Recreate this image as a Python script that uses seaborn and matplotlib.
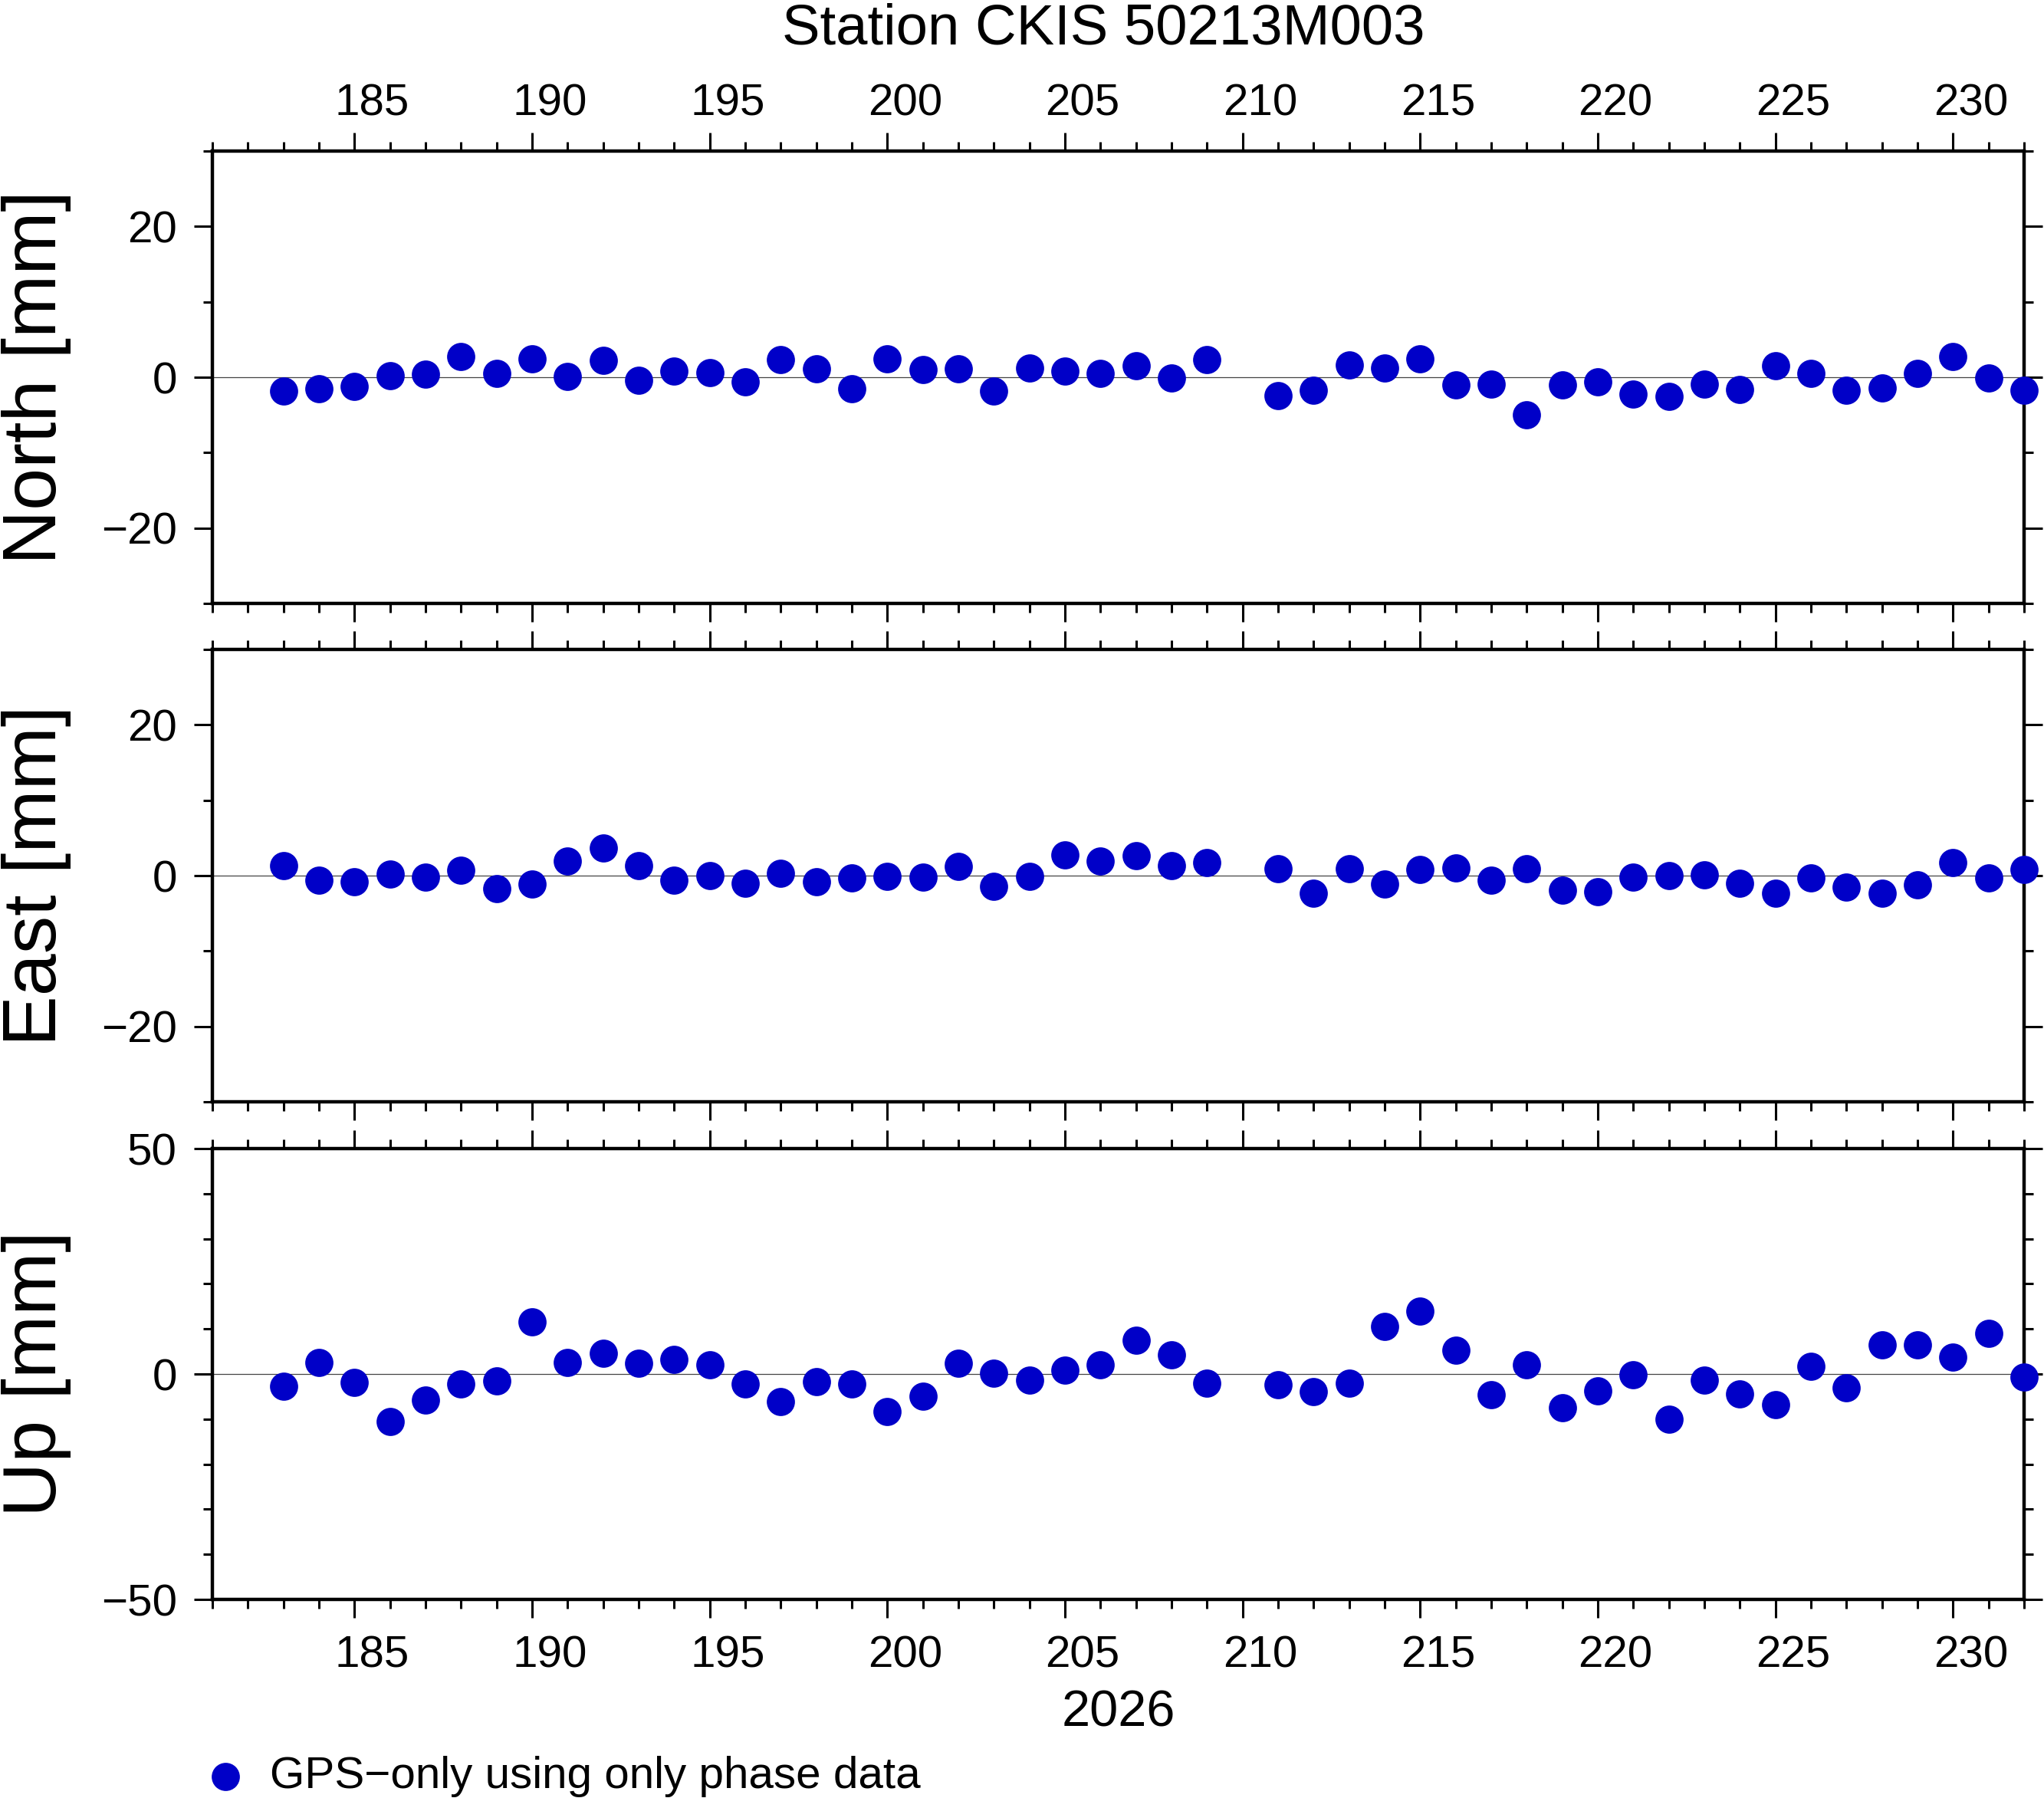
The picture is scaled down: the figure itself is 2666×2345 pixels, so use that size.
import numpy as np
import pandas as pd
import seaborn as sns
import matplotlib
matplotlib.use('Agg')
import matplotlib.pyplot as plt
from matplotlib.ticker import MultipleLocator, NullLocator, FixedLocator


# Day of year 2026 (day 210 missing).
days = list(range(183, 210)) + list(range(211, 233))

north = [-1.8, -1.5, -1.2, 0.2, 0.4, 2.7, 0.5, 2.4, 0.1, 2.2,
         -0.4, 0.8, 0.6, -0.6, 2.3, 1.1, -1.5, 2.4, 1.0, 1.1,
         -1.8, 1.2, 0.8, 0.5, 1.5, -0.1, 2.3,
         -2.4, -1.7, 1.6, 1.2, 2.4, -1.0, -0.9, -5.0, -1.0, -0.6,
         -2.2, -2.5, -0.9, -1.6, 1.5, 0.5, -1.7, -1.4, 0.5, 2.7,
         -0.1, -1.7]

east = [1.3, -0.6, -0.8, 0.2, -0.2, 0.7, -1.7, -1.1, 1.9, 3.7,
        1.3, -0.6, 0.0, -1.0, 0.3, -0.8, -0.3, -0.1, -0.2, 1.2,
        -1.4, -0.1, 2.7, 1.9, 2.6, 1.3, 1.7,
        0.9, -2.3, 0.9, -1.1, 0.8, 1.0, -0.6, 0.9, -1.9, -2.1,
        -0.2, 0.0, 0.1, -1.0, -2.3, -0.3, -1.5, -2.3, -1.2, 1.7,
        -0.3, 0.8]

up = [-2.8, 2.6, -1.9, -10.5, -5.8, -2.2, -1.5, 11.5, 2.6, 4.6,
      2.3, 3.2, 2.0, -2.2, -6.2, -1.7, -2.2, -8.4, -4.9, 2.3,
      0.1, -1.4, 0.8, 2.0, 7.5, 4.2, -2.0,
      -2.3, -3.9, -2.0, 10.5, 13.9, 5.2, -4.6, 2.0, -7.4, -3.7,
      -0.2, -10.0, -1.3, -4.4, -6.8, 1.7, -3.1, 6.4, 6.4, 3.8,
      9.0, -0.6]

components = ['North', 'East', 'Up']
ylims = {'North': (-30, 30), 'East': (-30, 30), 'Up': (-50, 50)}
ymajor = {'North': 20, 'East': 20, 'Up': 50}
day_ticks = list(range(185, 231, 5))
title = 'Station CKIS 50213M003'
year = '2026'
series_label = 'GPS\u2212only using only phase data'


def day_labels(ax, where, pad):
    ''' Day annotations sit in the middle of each day interval. '''
    sec = ax.secondary_xaxis(where, functions=(lambda x: x - 0.5, lambda x: x + 0.5))
    sec.xaxis.set_major_locator(FixedLocator(day_ticks))
    sec.xaxis.set_minor_locator(NullLocator())
    sec.tick_params(axis='x', which='both', length=0, labelsize=21, pad=pad,
                    labelcolor='black')
    for s in sec.spines.values():
        s.set_visible(False)
    return sec


def main():
    df = pd.DataFrame({'day': days, 'North': north, 'East': east, 'Up': up})

    sns.set_style('ticks')
    plt.rcParams['font.family'] = ['Liberation Sans', 'DejaVu Sans']
    plt.rcParams['text.color'] = 'black'
    plt.rcParams['axes.edgecolor'] = 'black'
    plt.rcParams['axes.labelcolor'] = 'black'
    plt.rcParams['xtick.color'] = 'black'
    plt.rcParams['ytick.color'] = 'black'

    W, H = 2666, 2345
    DPI = 200
    px = 72.0 / DPI  # points per pixel
    fig = plt.figure(figsize=(W / DPI, H / DPI), dpi=DPI)

    # panel boxes in pixels (top, bottom)
    left, right = 277, 2640
    boxes = {'North': (197, 787), 'East': (847, 1437), 'Up': (1498, 2086)}

    for comp in components:
        top, bot = boxes[comp]
        ax = fig.add_axes([left / W, 1 - bot / H, (right - left) / W, (bot - top) / H])
        lab = series_label if comp == 'Up' else None
        sns.scatterplot(data=df, x='day', y=comp, ax=ax, color='#0000c8', s=175,
                        linewidth=0, clip_on=False, zorder=3, label=lab)
        if ax.get_legend() is not None:
            ax.get_legend().remove()
        ax.axhline(0, color='#444444', lw=0.45, zorder=1)

        ax.set_xlim(181, 232)
        ax.set_ylim(*ylims[comp])
        ax.xaxis.set_major_locator(MultipleLocator(5))
        ax.xaxis.set_minor_locator(MultipleLocator(1))
        ax.yaxis.set_major_locator(MultipleLocator(ymajor[comp]))
        ax.yaxis.set_minor_locator(MultipleLocator(10))
        ax.set_xlabel('')
        ax.set_ylabel('')

        for s in ax.spines.values():
            s.set_linewidth(1.6)
            s.set_color('black')
            s.set_visible(True)

        ax.tick_params(which='both', direction='out', top=True, right=True,
                       bottom=True, left=True, width=1.1, color='black')
        ax.tick_params(which='major', length=24 * px)
        ax.tick_params(which='minor', length=12 * px)
        ax.tick_params(axis='y', labelsize=21, pad=8, labelcolor='black')
        ax.tick_params(axis='x', labeltop=False, labelbottom=False)

        if comp == 'North':
            day_labels(ax, 'top', 24 * px + 3.7)
        if comp == 'Up':
            day_labels(ax, 'bottom', 24 * px + 8.0)

        fig.text(73 / W, 1 - (top + bot) / 2 / H, comp + ' [mm]', rotation=90,
                 rotation_mode='anchor', ha='center', va='baseline', fontsize=35.5)

        if comp == 'Up':
            handles, labels = ax.get_legend_handles_labels()
            fig.legend(handles, labels, loc='center left',
                       bbox_to_anchor=(265 / W, 1 - 2317 / H), frameon=False,
                       borderpad=0, borderaxespad=0, handlelength=1.0,
                       handletextpad=0.5, fontsize=21)

    fig.text(1439 / W, 1 - 57 / H, title, ha='center', va='baseline', fontsize=26.8)
    fig.text(1459 / W, 1 - 2251 / H, year, ha='center', va='baseline', fontsize=24)

    plt.savefig('out.png', dpi=DPI)
    plt.close()


if __name__ == '__main__':
    main()
